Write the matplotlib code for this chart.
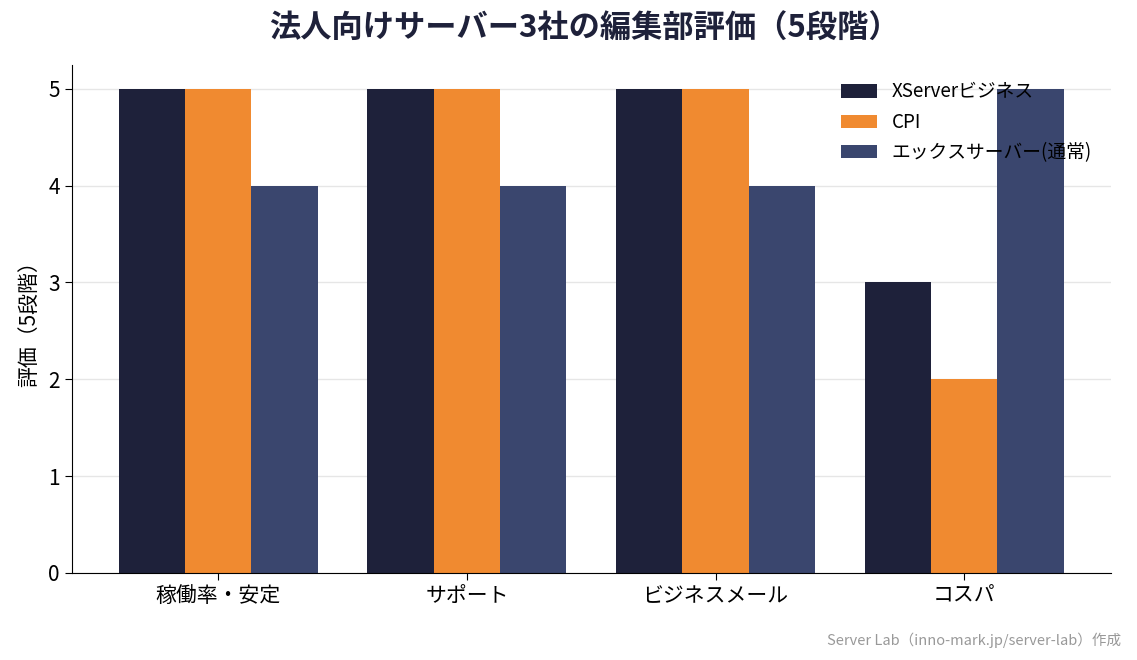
import matplotlib
matplotlib.use("Agg")
import matplotlib.pyplot as plt
import numpy as np

plt.rcParams["font.family"] = ["Noto Sans CJK JP", "DejaVu Sans"]

categories = ["稼働率・安定", "サポート", "ビジネスメール", "コスパ"]
series_names = ["XServerビジネス", "CPI", "エックスサーバー(通常)"]
xserver_biz = [5, 5, 5, 3]
cpi = [5, 5, 5, 2]
xserver_std = [4, 4, 4, 5]
colors = ["#1e213a", "#f08a30", "#3a466e"]

fig = plt.figure(figsize=(11.37, 6.6), dpi=100)
ax = fig.add_axes([0.063, 0.132, 0.914, 0.77])

x = np.arange(len(categories))
w = 0.8 / 3
for i, (vals, name, c) in enumerate(zip([xserver_biz, cpi, xserver_std], series_names, colors)):
    ax.bar(x + (i - 1) * w, vals, w, color=c, label=name, zorder=2)

ax.set_xticks(x)
ax.set_xticklabels(categories, fontsize=15)
ax.set_yticks(range(6))
ax.tick_params(axis="y", labelsize=15)
ax.tick_params(length=5)
ax.set_ylim(0, 5.25)
ax.set_ylabel("評価（5段階）", fontsize=15, labelpad=6)
ax.grid(axis="y", color="#e6e6e6", linewidth=1, zorder=0)
ax.set_axisbelow(True)
for s in ["top", "right"]:
    ax.spines[s].set_visible(False)

leg = ax.legend(loc="upper right", frameon=False, fontsize=13.5, handlelength=1.9,
                labelspacing=0.5, bbox_to_anchor=(0.998, 1.0))

fig.suptitle("法人向けサーバー3社の編集部評価（5段階）", fontsize=22.5, fontweight="bold",
             color="#1e213a", x=0.514, y=0.98)
fig.text(0.986, 0.022, "Server Lab（inno-mark.jp/server-lab）作成", ha="right",
         fontsize=10.5, color="#999999")

fig.savefig("out.png", dpi=100)
